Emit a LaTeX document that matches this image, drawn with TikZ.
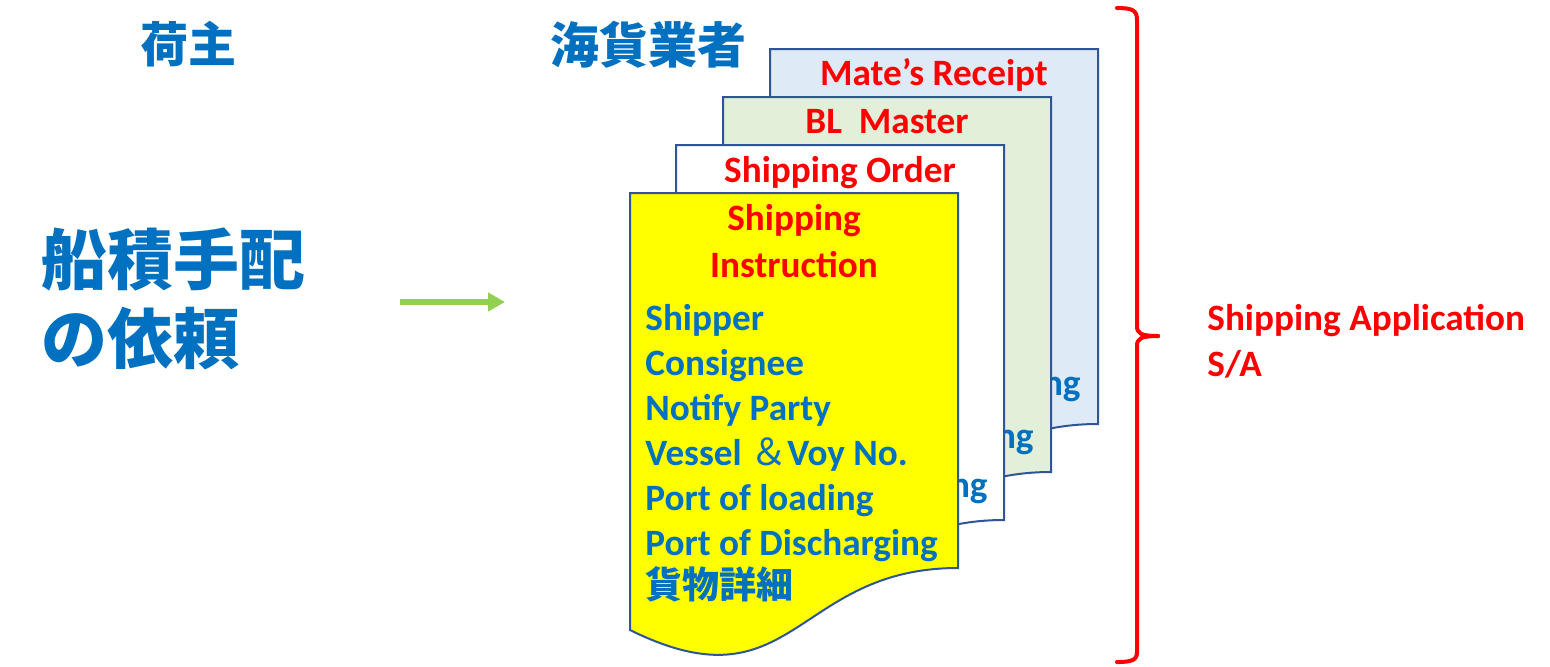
\documentclass[tikz,border=0pt]{standalone}
\usepackage{fontspec}
\setmainfont{Carlito}
\newfontfamily\cjk{Noto Sans CJK JP}
\usetikzlibrary{arrows.meta}
\definecolor{txtblue}{HTML}{0070C0}
\definecolor{txtred}{HTML}{FF0000}
\definecolor{edgeblue}{HTML}{2F5597}
\definecolor{fillblue}{HTML}{DEEBF7}
\definecolor{fillgreen}{HTML}{E2F0D9}
\definecolor{fillyellow}{HTML}{FFFF00}
\definecolor{arrowgreen}{HTML}{92D050}
\newcommand\docpage[3]{%
  \filldraw[docline, fill=#3] (#1,#2) -- ({#1+328},#2) -- ({#1+328},{#2+375})
    .. controls ({#1+164},{#2+375}) and ({#1+164},{#2+518}) .. (#1,{#2+437}) -- cycle;}
\begin{document}
\begin{tikzpicture}[x=0.5pt,y=-0.5pt,
  docline/.style={draw=edgeblue, line width=1pt},
  lbl/.style={inner sep=0pt, font=\bfseries\fontsize{18.6}{22}\selectfont},
  doctitle/.style={lbl, text=txtred, anchor=base},
  item/.style={lbl, text=txtblue, anchor=base west},
  hidden/.style={lbl, text=txtblue, anchor=base east},
  jp/.style={inner sep=0pt, text=txtblue},
  sidenote/.style={lbl, text=txtred, anchor=base west},
  flowarrow/.style={draw=arrowgreen, line width=2.75pt, -{Triangle[length=8.5pt,width=9pt]}},
  bracestyle/.style={draw=txtred, line width=2pt, line cap=round, line join=round}]
\useasboundingbox (0,0) rectangle (1550,666);

% headings
\node[jp, font=\cjk\bfseries\fontsize{24}{28}\selectfont] (shipper) at (188,44) {荷主};
\node[jp, font=\cjk\bfseries\fontsize{24.5}{28}\selectfont] (forwarder) at (648,45) {海貨業者};

% request text
\node[jp, anchor=west, font=\cjk\bfseries\fontsize{33}{40}\selectfont] (req1) at (41,259) {船積手配};
\node[jp, anchor=west, font=\cjk\bfseries\fontsize{33}{40}\selectfont] (req2) at (41,339) {の依頼};

% arrow
\coordinate (arrS) at (400,302);
\coordinate (arrE) at (505,302);
\draw[flowarrow] (arrS) -- (arrE);

% Mate's Receipt
\docpage{770}{49}{fillblue}
\node[doctitle] (mr) at (934,85) {Mate’s Receipt};
\node[hidden] (mrpod) at (1081,395) {ng};

% BL Master
\docpage{723}{97}{fillgreen}
\node[doctitle] (bl) at (887,133) {BL\ \ Master};
\node[hidden] (blpod) at (1034,448) {ng};

% Shipping Order
\docpage{676}{145}{white}
\node[doctitle] (so) at (840,182) {Shipping Order};
\node[hidden] (sopod) at (988,497) {ng};

% Shipping Instruction
\docpage{630}{193}{fillyellow}
\node[doctitle] (si1) at (794,230) {Shipping};
\node[doctitle] (si2) at (794,277) {Instruction};
\node[item] (i1) at (645,330) {Shipper};
\node[item] (i2) at (645,375) {Consignee};
\node[item] (i3) at (645,420) {Notify Party};
\node[item] (i4) at (645,465) {Vessel {\cjk\mdseries ＆}Voy No.};
\node[item] (i5) at (645,510) {Port of loading};
\node[item] (i6) at (645,555) {Port of Discharging};
\node[item, font=\cjk\bfseries\fontsize{18.5}{22}\selectfont] (i7) at (645,598) {貨物詳細};

% brace
\draw[bracestyle] (1117,8) .. controls (1132,8) and (1137,10) .. (1137,20) -- (1137,326)
  .. controls (1137,333) and (1140,336) .. (1158,336);
\draw[bracestyle] (1158,336) .. controls (1140,336) and (1137,339) .. (1137,346) -- (1137,652)
  .. controls (1137,660) and (1132,662) .. (1117,662);

% side note
\node[sidenote] (sa1) at (1207,330) {Shipping Application};
\node[sidenote] (sa2) at (1207,376) {S/A};
\end{tikzpicture}
\end{document}
